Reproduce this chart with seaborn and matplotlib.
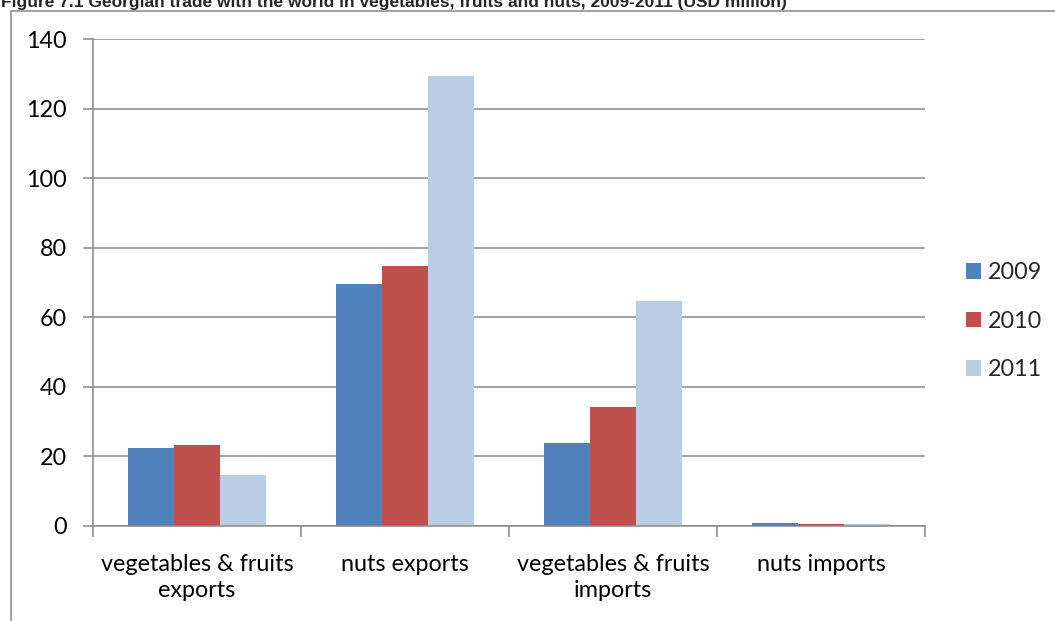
import matplotlib
matplotlib.use("Agg")
import matplotlib.pyplot as plt
from matplotlib.lines import Line2D
import numpy as np
import pandas as pd
import seaborn as sns

# Trade values, USD million
categories = ["vegetables & fruits\nexports", "nuts exports",
              "vegetables & fruits\nimports", "nuts imports"]
years = ["2009", "2010", "2011"]
values_2009 = [22.5, 69.5, 24.0, 1.0]
values_2010 = [23.3, 74.8, 34.2, 0.5]
values_2011 = [14.6, 129.5, 64.8, 0.6]
y_ticks = [0, 20, 40, 60, 80, 100, 120, 140]
title = "Figure 7.1 Georgian trade with the world in vegetables, fruits and nuts, 2009-2011 (USD million)"

colors = ["#4F81BD", "#C0504D", "#B9CDE5"]
grid_gray = "#898989"
label_size = 16.8

rows = []
for year, vals in zip(years, [values_2009, values_2010, values_2011]):
    for cat, v in zip(categories, vals):
        rows.append({"category": cat, "year": year, "value": v})
df = pd.DataFrame(rows)

sns.set_style("white")
plt.rcParams["font.family"] = ["Lato", "DejaVu Sans"]

W, H = 1055, 621
fig = plt.figure(figsize=(W / 100, H / 100), dpi=100)
ax = fig.add_axes([93 / W, (H - 526) / H, 832 / W, 487 / H])

sns.barplot(data=df, x="category", y="value", hue="year", order=categories,
            hue_order=years, palette=colors, saturation=1, width=0.66,
            linewidth=0, ax=ax)

ax.set_xlim(-0.5, len(categories) - 0.5)
ax.set_ylim(0, 140)
ax.set_yticks(y_ticks)
ax.set_yticklabels([str(t) for t in y_ticks])
ax.set_xlabel("")
ax.set_ylabel("")

# horizontal gridlines
ax.yaxis.grid(True, color=grid_gray, linewidth=1.1)
ax.set_axisbelow(True)

for side in ["top", "right"]:
    ax.spines[side].set_visible(False)
for side in ["left", "bottom"]:
    ax.spines[side].set_color(grid_gray)
    ax.spines[side].set_linewidth(1.1)

# category separators as minor ticks below the axis
ax.set_xticks(np.arange(-0.5, len(categories), 1.0), minor=True)
ax.tick_params(axis="x", which="minor", length=8, width=1.1, color=grid_gray,
               direction="out", bottom=True)
ax.tick_params(axis="x", which="major", length=0, pad=20, labelsize=label_size,
               labelcolor="black")
ax.tick_params(axis="y", which="major", length=7, width=1.1, color=grid_gray,
               direction="out", left=True, pad=12, labelsize=label_size,
               labelcolor="black")
for lbl in ax.get_xticklabels():
    lbl.set_linespacing(1.3)
    lbl.set_verticalalignment("top")

# legend on the right
handles, labels = ax.get_legend_handles_labels()
ax.legend(handles, labels, loc="center left",
          bbox_to_anchor=(966 / W, 1 - 321 / H), bbox_transform=fig.transFigure,
          frameon=False, fontsize=label_size, handlelength=0.65, handleheight=0.65,
          handletextpad=0.3, labelspacing=1.18, borderpad=0, borderaxespad=0)

# outer chart frame
frame_kw = dict(color=grid_gray, linewidth=1.1, transform=fig.transFigure)
fig.add_artist(Line2D([11 / W, 11 / W], [0, 1 - 10.5 / H], **frame_kw))
fig.add_artist(Line2D([11 / W, 1], [1 - 10.5 / H, 1 - 10.5 / H], **frame_kw))

fig.text(1 / W, 1 - 7.5 / H, title, family=["Liberation Sans", "DejaVu Sans"],
         fontweight="bold", fontsize=12.5, va="baseline", ha="left")

fig.savefig("out.png", dpi=100)
